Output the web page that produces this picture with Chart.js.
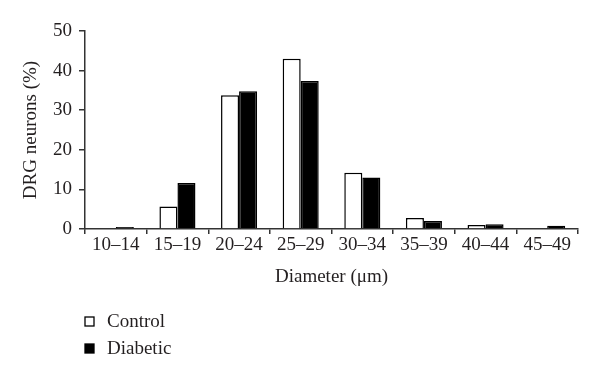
<!DOCTYPE html>
<html>
<head>
<meta charset="utf-8">
<script src="https://cdn.jsdelivr.net/npm/chart.js@4"></script>
<style>
  html, body { margin: 0; padding: 0; background: #fff; }
  #wrap { width: 600px; height: 382px; }
</style>
</head>
<body>
<div id="wrap"><canvas id="histChart"></canvas></div>
<script>
// Diameter bins and % of DRG neurons per group
const diameterBins = ["10–14", "15–19", "20–24", "25–29", "30–34", "35–39", "40–44", "45–49"];
const controlPct   = [0, 5.7, 33.8, 43.0, 14.2, 2.8, 1.0, 0];
const diabeticPct  = [0.5, 11.6, 34.8, 37.4, 13.0, 2.0, 1.2, 0.8];
const yTicks = [0, 10, 20, 30, 40, 50];

const ink = "#231f20";
const serif = "'Liberation Serif', 'DejaVu Serif', serif";

// stacked legend under the plot, bottom-left
const sideLegend = {
    id: "sideLegend",
    afterDraw(chart) {
        const ctx = chart.ctx;
        const x0 = chart.chartArea.left;
        const rows = [322, 349];
        ctx.save();
        ctx.font = "19px " + serif;
        ctx.textBaseline = "middle";
        chart.data.datasets.forEach((ds, i) => {
            const y = rows[i];
            ctx.fillStyle = ds.backgroundColor;
            ctx.fillRect(x0, y - 5, 9, 9);
            ctx.lineWidth = 1.3;
            ctx.strokeStyle = ds.borderColor;
            ctx.strokeRect(x0, y - 5, 9, 9);
            ctx.fillStyle = ink;
            ctx.fillText(ds.label, x0 + 22, y);
        });
        ctx.restore();
    }
};

new Chart(document.getElementById("histChart"), {
    type: "bar",
    data: {
        labels: diameterBins,
        datasets: [
            { label: "Control", data: controlPct, backgroundColor: "#ffffff", borderColor: "#000000", borderWidth: 1.5 },
            { label: "Diabetic", data: diabeticPct, backgroundColor: "#000000", borderColor: "#000000", borderWidth: 1.5 }
        ]
    },
    options: {
        responsive: true,
        maintainAspectRatio: false,
        animation: false,
        layout: { padding: { left: 0, right: 22, top: 31, bottom: 94 } },
        datasets: {
            bar: { categoryPercentage: 0.585, barPercentage: 1.0, borderSkipped: "start" }
        },
        plugins: {
            legend: { display: false },
            tooltip: { enabled: false }
        },
        scales: {
            x: {
                grid: { offset: true, drawOnChartArea: false, color: "#333", tickLength: 5, lineWidth: 1.5 },
                border: { color: "#333", width: 1.5 },
                ticks: { color: ink, padding: 0, maxRotation: 0, font: { family: serif, size: 19 } },
                title: {
                    display: true,
                    text: "Diameter (μm)",
                    color: ink,
                    padding: { top: 0, bottom: 0 },
                    font: { family: serif, size: 19 }
                },
                afterFit(scale) { scale.height = 59; }
            },
            y: {
                min: 0,
                max: 50,
                afterBuildTicks(scale) { scale.ticks = yTicks.map(v => ({ value: v })); },
                grid: { drawOnChartArea: false, color: "#333", tickLength: 6, lineWidth: 1.5 },
                border: { color: "#333", width: 1.5 },
                ticks: { color: ink, padding: 7, font: { family: serif, size: 19 } },
                title: {
                    display: true,
                    text: "DRG neurons (%)",
                    color: ink,
                    padding: { top: 20, bottom: 0 },
                    font: { family: serif, size: 19 }
                },
                afterFit(scale) { scale.width = 85; }
            }
        }
    },
    plugins: [sideLegend]
});
</script>
</body>
</html>
